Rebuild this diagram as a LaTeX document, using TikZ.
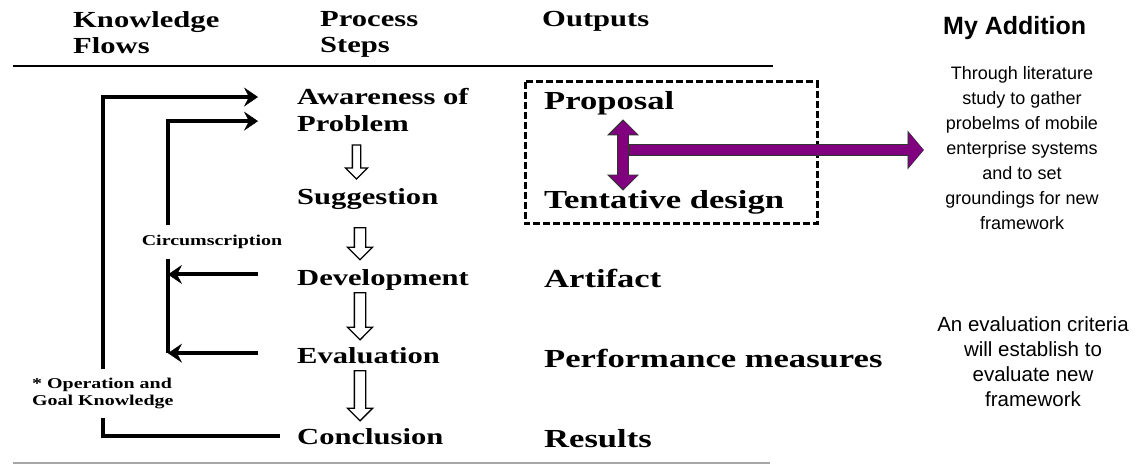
\documentclass[tikz,border=0pt]{standalone}
\usepackage{fontspec}
\setmainfont{Liberation Serif}
\newfontfamily\dsrfont[FakeStretch=1.33]{Liberation Serif}
\newfontfamily\notefont{Liberation Sans}
\usetikzlibrary{arrows.meta,shapes.arrows}
\definecolor{addpurple}{RGB}{128,0,128}
\tikzset{
  colhead/.style={anchor=north west, inner sep=0pt, align=left,
    font=\dsrfont\bfseries\fontsize{23}{26}\selectfont},
  stepname/.style={anchor=base west, inner sep=0pt,
    font=\dsrfont\bfseries\fontsize{23}{27}\selectfont},
  outname/.style={anchor=base west, inner sep=0pt,
    font=\dsrfont\bfseries\fontsize{26}{30}\selectfont},
  knownote/.style={inner xsep=0pt, align=left,
    font=\dsrfont\bfseries\fontsize{15}{17}\selectfont},
  addnote/.style={anchor=north, inner sep=0pt, align=center,
    font=\notefont\fontsize{18}{25}\selectfont},
  flowline/.style={line width=4pt},
  flowarrow/.style={flowline, -{Stealth[length=14pt,width=19pt,inset=5pt,line width=0.5pt]}},
  stepdown/.style={single arrow, draw, line width=1.3pt, fill=white,
    shape border rotate=270, single arrow head extend=7pt},
  addarrow/.style={draw=black!80, line width=0.8pt, fill=addpurple, inner sep=5pt},
  dashbox/.style={line width=3pt, dash pattern=on 7pt off 3pt}
}
\begin{document}
\begin{tikzpicture}[x=1pt,y=-1pt]
  \useasboundingbox (0,0) rectangle (1135,465);

  % column heads
  \node[colhead] (hknow) at (73,11.5) {Knowledge\\Flows};
  \node[colhead] (hstep) at (320,11.5) {Process\\Steps};
  \node[colhead] (hout) at (542,11.5) {Outputs};
  \draw[line width=2pt] (13,66) -- (773,66);
  \draw[line width=1.5pt, black!35] (13,463) -- (770,463);

  % process steps
  \node[stepname] (aware) at (297,105) {Awareness of};
  \node[stepname] (prob) at (297,132) {Problem};
  \node[stepname] (sugg) at (297,205) {Suggestion};
  \node[stepname] (devel) at (297,285) {Development};
  \node[stepname] (evalu) at (297,363) {Evaluation};
  \node[stepname] (concl) at (297,444) {Conclusion};

  % hollow arrows between steps
  \foreach \x/\c/\l/\s [count=\i] in {356.5/160/34/3.5, 360/241/32/5, 360/313.5/47/5, 360/393/50/5}
    \node[stepdown, inner sep=\s pt, minimum height=\l pt] (down\i) at (\x,\c) {};

  % outputs
  \node[outname] (prop) at (544,110) {Proposal};
  \node[outname] (tent) at (544,208) {Tentative design};
  \node[outname] (arti) at (544,287) {Artifact};
  \node[outname] (perf) at (544,367) {Performance measures};
  \node[outname] (resu) at (544,447) {Results};
  \draw[dashbox] (525,82) rectangle (817,224);

  % knowledge flows
  \coordinate (circx) at (168,0);
  \node[knownote, anchor=north west, inner ysep=9pt] (opk) at (32,369)
    {* Operation and\\Goal Knowledge};
  \node[knownote, anchor=base, inner ysep=10pt] (circ) at (212,246) {Circumscription};
  \draw[flowarrow] (opk.north) |- ([xshift=-39pt]aware.west);
  \draw[flowline] (opk.south) |- ([xshift=-17pt]concl.west);
  \draw[flowarrow] (circ.north -| circx) |- ([xshift=-39pt,yshift=3pt]prob.west);
  \draw[flowline] (circ.south -| circx) -- ([yshift=2pt]evalu.west -| circx);
  \draw[flowarrow] ([xshift=-39pt,yshift=5pt]devel.west) -- ([yshift=5pt]devel.west -| circx);
  \draw[flowarrow] ([xshift=-39pt,yshift=2pt]evalu.west) -- ([yshift=2pt]evalu.west -| circx);

  % my addition
  \node[anchor=base west, inner sep=0pt, font=\notefont\bfseries\fontsize{25}{30}\selectfont]
    (addhead) at (943,35) {My Addition};
  \node[addnote] (lit) at (1022,66)
    {Through literature\\study to gather\\probelms of mobile\\enterprise systems\\and to set\\groundings for new\\framework};
  \node[addnote, font=\notefont\fontsize{20.5}{25}\selectfont] (crit) at (1033,316)
    {An evaluation criteria\\will establish to\\evaluate new\\framework};
  \node[addarrow, double arrow, shape border rotate=90, minimum height=70pt,
    double arrow head extend=9.5pt] (dbl) at (623,155) {};
  \node[addarrow, single arrow, anchor=tail, minimum height=295pt,
    single arrow head extend=13pt, single arrow tip angle=100]
    (link) at ([xshift=5pt,yshift=5pt]dbl.center) {};
\end{tikzpicture}
\end{document}
